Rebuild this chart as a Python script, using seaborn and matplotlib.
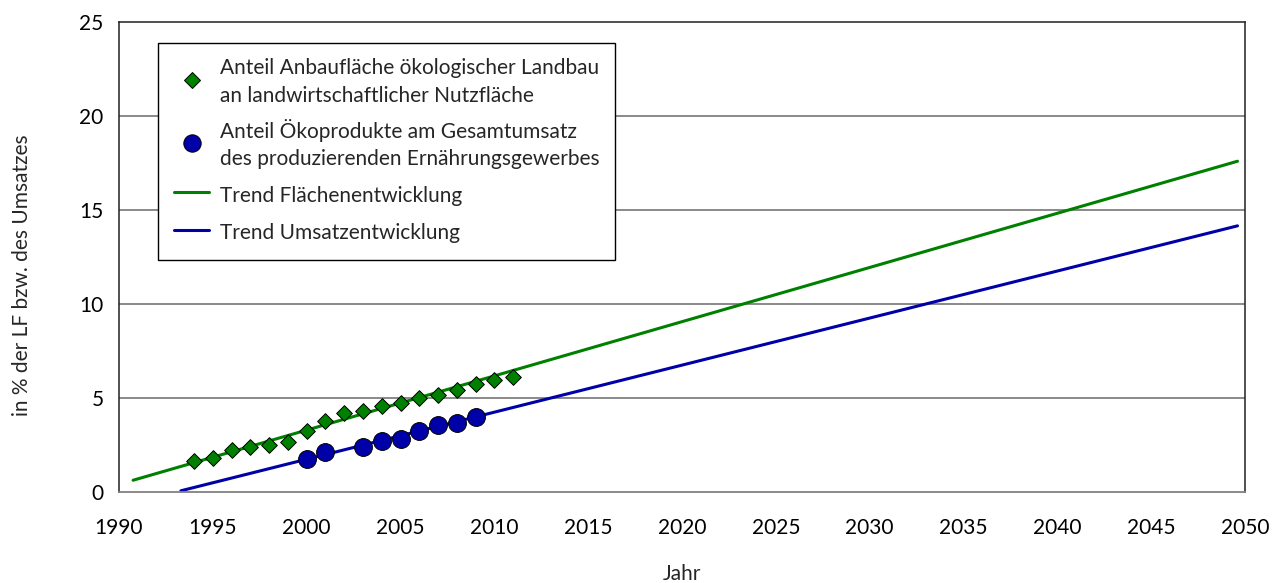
import matplotlib
matplotlib.use("Agg")
import matplotlib.pyplot as plt
import seaborn as sns
import pandas as pd
import numpy as np
from matplotlib.lines import Line2D

# Data
years_area = [1994, 1995, 1996, 1997, 1998, 1999, 2000, 2001, 2002, 2003,
              2004, 2005, 2006, 2007, 2008, 2009, 2010, 2011]
share_area = [1.65, 1.81, 2.22, 2.36, 2.48, 2.63, 3.21, 3.76, 4.20, 4.31,
              4.56, 4.73, 5.00, 5.14, 5.41, 5.71, 5.96, 6.12]

years_sales = [2000, 2001, 2003, 2004, 2005, 2006, 2007, 2008, 2009]
share_sales = [1.72, 2.13, 2.39, 2.68, 2.82, 3.24, 3.53, 3.66, 3.96]

trend_area_years = [1990.75, 2049.6]
trend_area_vals = [0.61, 17.59]
trend_sales_years = [1993.3, 2049.6]
trend_sales_vals = [0.05, 14.15]

x_ticks = list(range(1990, 2051, 5))
y_ticks = [0, 5, 10, 15, 20, 25]

lbl_area = "Anteil Anbaufläche ökologischer Landbau\nan landwirtschaftlicher Nutzfläche"
lbl_sales = "Anteil Ökoprodukte am Gesamtumsatz\ndes produzierenden Ernährungsgewerbes"
lbl_tarea = "Trend Flächenentwicklung"
lbl_tsales = "Trend Umsatzentwicklung"

sns.set_theme(style="white")
plt.rcParams['font.family'] = ['Lato', 'DejaVu Sans']

GREEN = "#008000"
BLUE = "#0000A8"
FS = 15

fig = plt.figure(figsize=(12.72, 5.83), dpi=100)
ax = fig.add_axes([119/1272, 1-491.7/583, (1245-119)/1272, (491.7-22)/583])

df_ta = pd.DataFrame({"x": trend_area_years, "y": trend_area_vals})
df_ts = pd.DataFrame({"x": trend_sales_years, "y": trend_sales_vals})
df_a = pd.DataFrame({"x": years_area, "y": share_area})
df_s = pd.DataFrame({"x": years_sales, "y": share_sales})

# gridlines
for yv in y_ticks[1:-1]:
    ax.axhline(yv, color="#808080", lw=1.3, zorder=0)

sns.lineplot(data=df_ta, x="x", y="y", ax=ax, color=GREEN, lw=2.2, zorder=2)
sns.lineplot(data=df_ts, x="x", y="y", ax=ax, color=BLUE, lw=2.2, zorder=2)
sns.scatterplot(data=df_a, x="x", y="y", ax=ax, marker="D", s=64,
                color=GREEN, edgecolor="black", linewidth=0.7, zorder=3)
sns.scatterplot(data=df_s, x="x", y="y", ax=ax, marker="o", s=165,
                color=BLUE, edgecolor="black", linewidth=0.7, zorder=3)

ax.set_xlim(1990, 2050)
ax.set_ylim(0, 25)
ax.set_xticks(x_ticks)
ax.set_yticks(y_ticks)
ax.tick_params(axis="x", direction="out", length=6, width=1,
               color="black", labelsize=FS, labelcolor="black", pad=13)
ax.tick_params(axis="y", length=0, labelsize=FS, labelcolor="black", pad=11)
for side in ["left", "top", "right"]:
    ax.spines[side].set_color("#202020")
    ax.spines[side].set_linewidth(1.1)
ax.spines["bottom"].set_color("#808080")
ax.spines["bottom"].set_linewidth(1.3)

ax.set_xlabel("Jahr", fontsize=FS, labelpad=19)
ax.set_ylabel("in % der LF bzw. des Umsatzes", fontsize=FS)
ax.yaxis.set_label_coords((32-119)/1126, (491.7-275)/469.7)

handles = [
    Line2D([], [], marker="D", linestyle="none", markersize=8,
           markerfacecolor=GREEN, markeredgecolor="black", markeredgewidth=0.7),
    Line2D([], [], marker="o", linestyle="none", markersize=12.5,
           markerfacecolor=BLUE, markeredgecolor="black", markeredgewidth=0.7),
    Line2D([], [], color=GREEN, lw=2.2),
    Line2D([], [], color=BLUE, lw=2.2),
]
labels = [lbl_area, lbl_sales, lbl_tarea, lbl_tsales]
leg = ax.legend(handles, labels, loc="upper left",
                bbox_to_anchor=((158.3-119)/1126, 1-(42.7-22)/469.7),
                frameon=True, fancybox=False, shadow=False, fontsize=FS,
                handlelength=1.7, handletextpad=0.5, labelspacing=0.65,
                handleheight=1.4, borderpad=0.75, borderaxespad=0)
for t in leg.get_texts():
    t.set_linespacing(1.45)
leg.get_frame().set_edgecolor("black")
leg.get_frame().set_linewidth(1.0)
leg.get_frame().set_alpha(1)

fig.savefig("out.png", dpi=100)
